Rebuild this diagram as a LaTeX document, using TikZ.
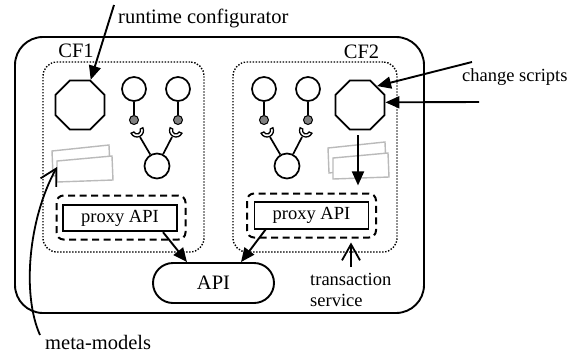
\documentclass[tikz,border=0pt]{standalone}
\usepackage{fontspec}
\setmainfont{Liberation Serif}
\usetikzlibrary{shapes.geometric,arrows.meta,calc}

\begin{document}
\begin{tikzpicture}[x=1pt,y=-1pt,
  big/.style={font=\fontsize{20.5}{24}\selectfont, inner sep=0pt},
  sml/.style={font=\fontsize{18.5}{21}\selectfont, inner sep=0pt},
  frame/.style={draw, line width=1.9pt, rounded corners=28pt, inner sep=0pt},
  cfbox/.style={draw, line width=1.4pt, dash pattern=on 1.4pt off 1.6pt, rounded corners=14pt, inner sep=0pt},
  txbox/.style={draw, line width=2pt, dash pattern=on 7pt off 4.5pt, rounded corners=7pt, inner sep=0pt,
                minimum width=129pt, minimum height=44pt},
  proxy/.style={draw, line width=1.8pt, inner sep=0pt, minimum width=114pt, minimum height=26.5pt,
                font=\fontsize{18.5}{21}\selectfont},
  octa/.style={draw, regular polygon, regular polygon sides=8, minimum size=53pt, inner sep=0pt, line width=1.9pt},
  ball/.style={draw, circle, line width=1.7pt, minimum size=24pt, inner sep=0pt},
  knob/.style={draw, circle, fill=black!50, line width=1pt, minimum size=9pt, inner sep=0pt},
  stick/.style={line width=1.7pt},
  sheet/.style={draw=black!27, fill=white, line width=1.4pt},
  arr/.style={line width=1.9pt, -{Triangle[length=14pt,width=12pt]}},
  openarr/.style={line width=1.8pt, -{Straight Barb[length=16pt,width=18pt,line width=1.8pt]}},
  sock/.pic={\draw[fill=white, line width=1.3pt] (6.5,0) arc[start angle=0,end angle=180,radius=6.5]
             -- (-3.5,0) arc[start angle=180,end angle=0,radius=3.5] -- cycle;}
]
\useasboundingbox (0,0) rectangle (578,354);

% system frame and the two component frameworks
\node[frame, minimum width=409pt, minimum height=276pt] (sys) at (219.5,175) {};
\node[cfbox, minimum width=161pt, minimum height=190pt] (cf1) at (123.5,157) {};
\node[cfbox, minimum width=164pt, minimum height=190pt] (cf2) at (315,157) {};
\node[big, anchor=base] (cf1lbl) at (76,57) {CF1};
\node[big, anchor=base] (cf2lbl) at (361.5,58) {CF2};

% configurators
\node[octa] (oct1) at (80,105) {};
\node[octa] (oct2) at (360,105) {};

% components with their connectors
\foreach \i/\dx in {1/0, 2/130} {
  \node[ball] (ca\i) at (134+\dx,89) {};
  \node[ball] (cb\i) at (178+\dx,89) {};
  \node[knob] (ka\i) at (134+\dx,120) {};
  \node[knob] (kb\i) at (178+\dx,120) {};
  \draw[stick] (ca\i) -- (ka\i);
  \draw[stick] (cb\i) -- (kb\i);
  \node[ball, minimum size=25pt] (bc\i) at (157+\dx,166) {};
  \coordinate (sa\i) at (140+\dx,137);
  \coordinate (sb\i) at (172+\dx,137);
  \draw[stick] (sa\i) -- (bc\i);
  \draw[stick] (sb\i) -- (bc\i);
  \pic[rotate=25] at (137+\dx,130.5) {sock};
  \pic[rotate=-25] at (176+\dx,130.5) {sock};
}

% meta-model sheets
\foreach \dx/\dy in {0/0, 276/-3} {
  \begin{scope}[shift={(\dx,\dy)}]
    \draw[sheet] (52,151) -- (109,145) -- (110,170) -- (53,176) -- cycle;
    \draw[sheet] (57,161) -- (112,156) -- (113,180) -- (57,182) -- cycle;
  \end{scope}
}
\coordinate (mmTip) at (57,167);

% transaction service boxes and proxies
\node[txbox] (tx1) at (121,217.5) {};
\node[txbox] (tx2) at (311.5,215.5) {};
\node[proxy] (px1) at (120,218) {proxy API};
\node[proxy] (px2) at (311.5,215.5) {proxy API};

% shared API
\node[draw, line width=1.9pt, rounded corners=20pt, minimum width=121pt, minimum height=40pt,
      inner sep=0pt, font=\fontsize{20.5}{24}\selectfont] (api) at (213.5,283) {API};

\draw[arr] ($(px1.south)+(43,0)$) -- ($(api.north)+(-26.5,0)$);
\draw[arr] ($(px2.south)+(-46,0)$) -- ($(api.north)+(27.5,0)$);
\draw[arr] ($(oct2.south)+(-2,5)$) -- ($(oct2.south)+(-2,55)$);

% annotations
\node[big, anchor=base west] (rcLbl) at (118,23) {runtime configurator};
\coordinate (rcTail) at (114,5);
\draw[arr] (rcTail) -- (oct1.67.5);

\node[sml, anchor=base west] (csLbl) at (462,81.5) {change scripts};
\coordinate (csTailA) at (472,62);
\coordinate (csTailB) at (479,102);
\draw[arr] (csTailA) -- (oct2.48);
\draw[arr] (csTailB) -- (oct2.6);

\node[sml, anchor=base west, align=left, font=\fontsize{18.5}{21}\selectfont] (tsLbl) at (310,306)
  {transaction\\service};
\coordinate (tsTail) at (351,267);
\draw[openarr] (tsTail) -- ($(tx2.south)+(39.5,4)$);

\node[big, anchor=base west] (mmLbl) at (45,349) {meta-models};
\coordinate (mmTail) at (40,335);
\draw[openarr] (mmTail) .. controls (22,295) and (28,220) .. (mmTip);
\end{tikzpicture}
\end{document}
